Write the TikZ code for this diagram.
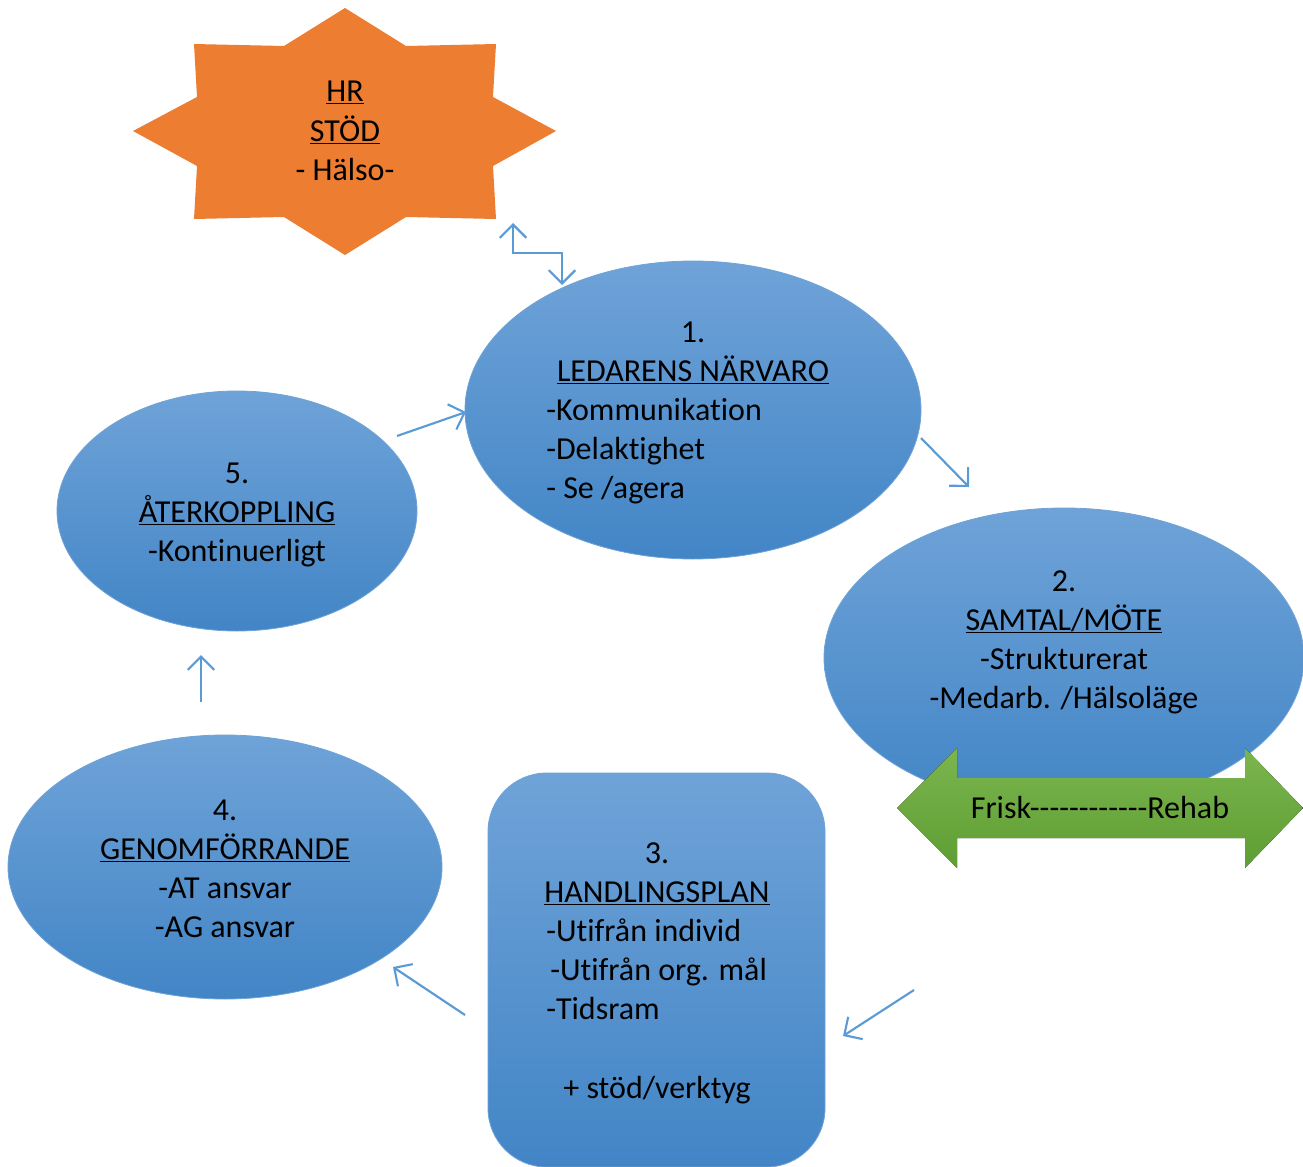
\documentclass[tikz,border=0pt]{standalone}
\usepackage{fontspec}
\setmainfont{Carlito}[Ligatures={CommonOff,TeXOff}]
\usetikzlibrary{shapes.geometric,arrows.meta}
\newcommand\ulx[1]{$\underline{\smash{\hbox{#1}}}$}
\definecolor{bluetop}{HTML}{6FA3D8}
\definecolor{bluemid}{HTML}{5499DA}
\definecolor{bluebot}{HTML}{4285C6}
\definecolor{blueline}{HTML}{5B9BD5}
\definecolor{orangestar}{HTML}{ED7D31}
\definecolor{greentop}{HTML}{7BB54E}
\definecolor{greenbot}{HTML}{5E9E33}
\tikzset{
  bluebody/.style={top color=bluetop,middle color=bluemid,bottom color=bluebot,draw=bluetop,line width=0.6pt},
  oval/.style={bluebody,ellipse,inner sep=0pt},
  txt/.style={inner sep=0pt,font=\fontsize{24}{29}\selectfont,text=black},
  barb/.tip={Straight Barb[length=10pt,width=20pt,line width=1.6pt]},
  flow/.style={draw=blueline,line width=1.6pt,-barb},
  flowboth/.style={draw=blueline,line width=1.6pt,barb-barb}
}
\begin{document}
\begin{tikzpicture}[x=0.75pt,y=-0.75pt]
\useasboundingbox (0,0) rectangle (1303,1167);

% star
\fill[orangestar] (345,8) -- (406,46) -- (496,44) -- (493,97) -- (556,131) -- (493,166) -- (496,219) -- (406,217)
  -- (345,255) -- (284,217) -- (194,219) -- (197,166) -- (133,131) -- (197,97) -- (194,44) -- (284,46) -- cycle;
\node[txt,anchor=base] (hr1) at (345,101) {\ulx{HR}};
\node[txt,anchor=base] (hr2) at (345,141) {\ulx{STÖD}};
\node[txt,anchor=base] (hr3) at (345,180) {- Hälso-};

% shapes
\node[oval,minimum width=342pt,minimum height=223.5pt] (e1) at (693,410) {};
\node[oval,minimum width=360pt,minimum height=225pt] (e2) at (1064,658) {};
\node[oval,minimum width=325.5pt,minimum height=198pt] (e4) at (225,867) {};
\node[oval,minimum width=270pt,minimum height=180pt] (e5) at (237,511) {};
\node[bluebody,rectangle,rounded corners=44pt,minimum width=252.75pt,minimum height=295.5pt,inner sep=0pt] (r3) at (656.5,970) {};

% green double arrow
\fill[top color=greentop,bottom color=greenbot] (897,808) -- (957,748) -- (957,778) -- (1245,778) -- (1245,748) -- (1303,808)
  -- (1245,868) -- (1245,838) -- (957,838) -- (957,868) -- cycle;
\node[txt,anchor=base] (frisk) at (1100,818) {Frisk------------Rehab};

% texts 1
\node[txt,anchor=base] (t1a) at (693,342) {1.};
\node[txt,anchor=base] (t1b) at (693,381) {\ulx{LEDARENS NÄRVARO}};
\node[txt,anchor=base west] (t1c) at (546,420) {-Kommunikation};
\node[txt,anchor=base west] (t1d) at (546,459) {-Delaktighet};
\node[txt,anchor=base west] (t1e) at (546,498) {- Se /agera};

% texts 2
\node[txt,anchor=base] (t2a) at (1064,591) {2.};
\node[txt,anchor=base] (t2b) at (1064,630) {\ulx{SAMTAL/MÖTE}};
\node[txt,anchor=base] (t2c) at (1064,669) {-Strukturerat};
\node[txt,anchor=base] (t2d) at (1064,708) {-Medarb. /Hälsoläge};

% texts 3
\node[txt,anchor=base] (t3a) at (657,863) {3.};
\node[txt,anchor=base] (t3b) at (657,902) {\ulx{HANDLINGSPLAN}};
\node[txt,anchor=base west] (t3c) at (546,941) {-Utifrån individ};
\node[txt,anchor=base west] (t3d) at (550,980) {-Utifrån org. mål};
\node[txt,anchor=base west] (t3e) at (546,1019) {-Tidsram};
\node[txt,anchor=base] (t3f) at (657,1098) {+ stöd/verktyg};

% texts 4
\node[txt,anchor=base] (t4a) at (225,820) {4.};
\node[txt,anchor=base] (t4b) at (225,859) {\ulx{GENOMFÖRRANDE}};
\node[txt,anchor=base] (t4c) at (225,898) {-AT ansvar};
\node[txt,anchor=base] (t4d) at (225,937) {-AG ansvar};

% texts 5
\node[txt,anchor=base] (t5a) at (237,483) {5.};
\node[txt,anchor=base] (t5b) at (237,522) {\ulx{ÅTERKOPPLING}};
\node[txt,anchor=base] (t5c) at (237,561) {-Kontinuerligt};

% connectors
\coordinate (hrA) at (513,223);
\coordinate (hrB) at (562,285);
\draw[flowboth] (hrA) |- (537,253) -| (hrB);

\coordinate (a51) at (397,436);
\coordinate (b51) at (466,412);
\draw[flow] (a51) -- (b51);

\coordinate (a12) at (921,438);
\coordinate (b12) at (969,487);
\draw[flow] (a12) -- (b12);

\coordinate (a23) at (914,990);
\coordinate (b23) at (843,1036);
\draw[flow] (a23) -- (b23);

\coordinate (a34) at (465,1015);
\coordinate (b34) at (393,967);
\draw[flow] (a34) -- (b34);

\coordinate (a45) at (201,702);
\coordinate (b45) at (201,655);
\draw[flow] (a45) -- (b45);
\end{tikzpicture}
\end{document}
